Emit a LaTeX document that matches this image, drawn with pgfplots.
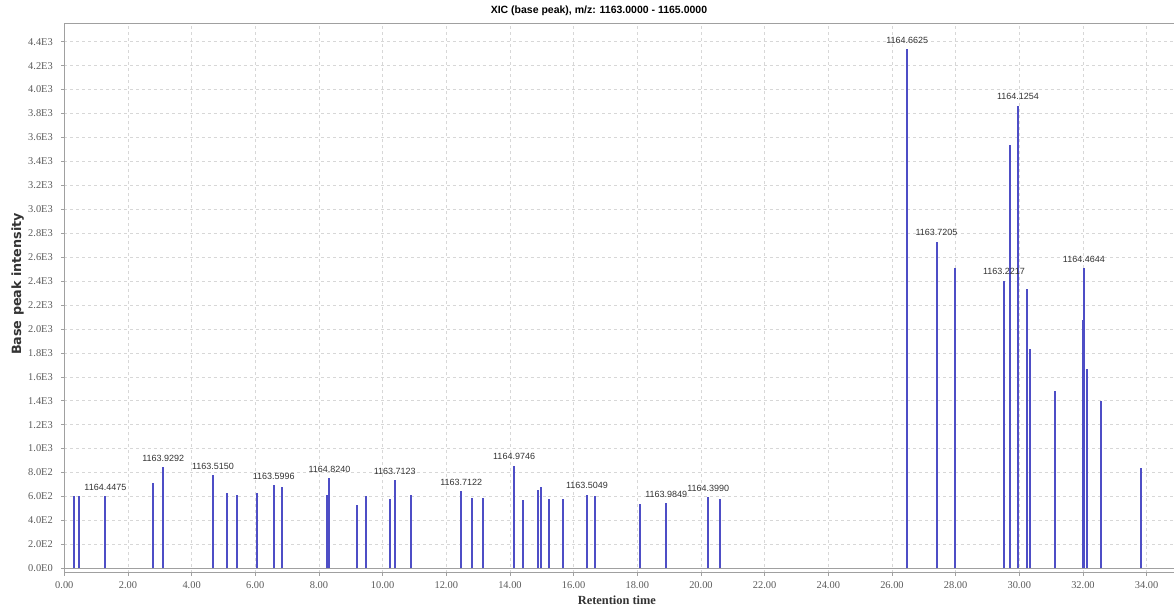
\documentclass[border=0pt]{standalone}
\usepackage{fontspec}
\setmainfont{Liberation Serif}
\newfontfamily\lsans{Liberation Sans}
\newfontfamily\dvsans{DejaVu Sans}
\usepackage{pgfplots}
\pgfplotsset{compat=1.18}
\usepackage{pgfplotstable}
\definecolor{peakblue}{RGB}{78,78,198}
\definecolor{axgray}{RGB}{160,160,160}
\definecolor{gridgray}{RGB}{215,215,215}
\definecolor{ticktxt}{RGB}{90,90,90}

\pgfplotstableread{
x y
0.31 600
0.47 600
1.29 600
2.80 713
3.11 847
4.67 780
5.10 633
5.44 616
6.06 633
6.58 692
6.83 680
8.25 610
8.29 615
8.33 753
9.21 530
9.47 605
10.24 577
10.38 736
10.90 614
12.47 642
12.80 591
13.16 591
14.13 858
14.40 569
14.89 658
14.96 675
15.22 577
15.67 580
16.42 616
16.66 600
18.10 533
18.91 547
20.23 597
20.61 583
26.48 4339
27.40 2730
27.97 2512
29.52 2403
29.71 3538
29.96 3865
30.24 2331
30.35 1834
31.13 1478
32.00 2075
32.03 2507
32.14 1665
32.58 1400
33.82 834
}\peaks

\pgfplotstableread{
x y lab
1.29 600 1164.4475
3.11 847 1163.9292
4.67 780 1163.5150
6.58 692 1163.5996
8.33 753 1164.8240
10.38 736 1163.7123
12.47 642 1163.7122
14.13 858 1164.9746
16.42 616 1163.5049
18.91 547 1163.9849
20.23 597 1164.3990
26.48 4339 1164.6625
27.40 2730 1163.7205
29.52 2403 1163.2217
29.96 3865 1164.1254
32.03 2507 1164.4644
}\labels

\begin{document}
\begin{tikzpicture}
\useasboundingbox (0,0) rectangle (1174bp,608bp);
\begin{axis}[
  at={(64.3bp,35.3bp)}, anchor=south west,
  scale only axis,
  width=1109.7bp, height=549.4bp,
  xmin=0, xmax=34.86,
  ymin=-37, ymax=4554,
  axis x line*=bottom, axis y line*=left,
  axis line style={axgray, line width=1.2bp, -},
  xtick={0,2,...,34},
  xticklabels={0.00,2.00,4.00,6.00,8.00,10.00,12.00,14.00,16.00,18.00,20.00,22.00,24.00,26.00,28.00,30.00,32.00,34.00},
  ytick={0,200,...,4400},
  yticklabels={0.0E0,2.0E2,4.0E2,6.0E2,8.0E2,1.0E3,1.2E3,1.4E3,1.6E3,1.8E3,2.0E3,2.2E3,2.4E3,2.6E3,2.8E3,3.0E3,3.2E3,3.4E3,3.6E3,3.8E3,4.0E3,4.2E3,4.4E3},
  tick align=outside,
  major tick length=3bp,
  tick style={axgray, line width=0.6bp},
  ticklabel style={font=\fontsize{10.4bp}{12bp}\selectfont, text=ticktxt},
  xticklabel style={yshift=-2bp},
  yticklabel style={xshift=-5bp},
  grid=major,
  grid style={gridgray, dashed, line width=0.5bp},
  title={XIC (base peak), m/z: 1163.0000 - 1165.0000},
  title style={font=\lsans\bfseries\fontsize{10.5bp}{12bp}\selectfont, at={(axis description cs:0.4818,1)}, anchor=base, yshift=4.3bp},
  xlabel={Retention time},
  xlabel style={font=\bfseries\fontsize{12.4bp}{14bp}\selectfont, text=black!80, at={(axis description cs:0.498,0)}, anchor=base, yshift=-32.3bp},
  ylabel={Base peak intensity},
  ylabel style={font=\dvsans\bfseries\fontsize{12.75bp}{14bp}\selectfont, text=black!80, at={(axis description cs:-0.03902,0.5255)}, anchor=base},
  clip=true,
]
\addplot[axgray, line width=1.5bp] coordinates {(0,0) (34.86,0)};
\addplot[ycomb, color=peakblue, line width=2bp, mark=none] table[x=x, y=y] {\peaks};
\addplot[draw=none, mark=none, nodes near coords, point meta=explicit symbolic,
  every node near coord/.append style={font=\lsans\fontsize{9bp}{10bp}\selectfont, text=black!80, anchor=south, inner sep=0pt, yshift=5.5bp}]
  table[x=x, y=y, meta=lab] {\labels};
\draw[axgray, line width=1.2bp] (rel axis cs:0,1) -- (rel axis cs:1,1);
\end{axis}
\end{tikzpicture}
\end{document}
